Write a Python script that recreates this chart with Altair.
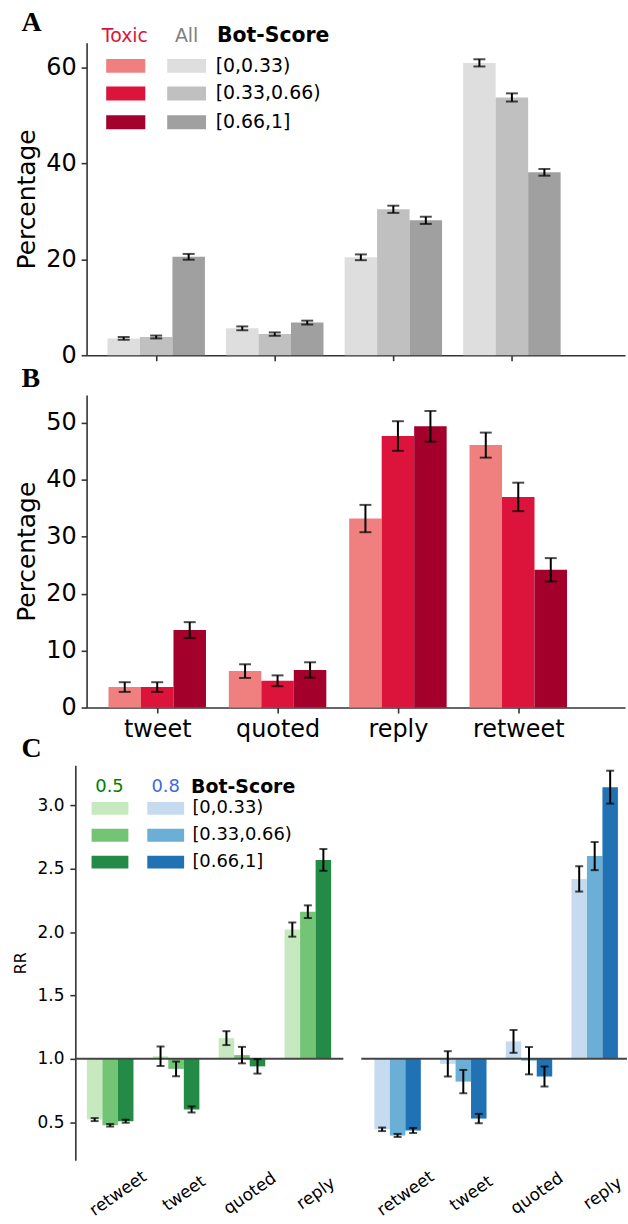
import altair as alt
import pandas as pd

# ---------------------------------------------------------------- data
bins = ["[0,0.33)", "[0.33,0.66)", "[0.66,1]"]

# Panels A and B: tweet types, in plotting order
types_ab = ["tweet", "quoted", "reply", "retweet"]

# A: all tweets, share of each type (%) per bot-score bin
all_low = [3.5, 5.6, 20.4, 60.9]
all_mid = [3.8, 4.4, 30.4, 53.7]
all_high = [20.5, 6.8, 28.1, 38.1]
all_low_err = [0.3, 0.4, 0.6, 0.75]
all_mid_err = [0.3, 0.35, 0.75, 0.85]
all_high_err = [0.6, 0.4, 0.75, 0.7]

# B: toxic tweets, share of each type (%) per bot-score bin
tox_low = [3.6, 6.4, 33.2, 46.1]
tox_mid = [3.6, 4.7, 47.7, 37.0]
tox_high = [13.6, 6.6, 49.4, 24.2]
tox_low_err = [0.85, 1.2, 2.4, 2.2]
tox_mid_err = [0.85, 0.95, 2.6, 2.5]
tox_high_err = [1.4, 1.35, 2.7, 2.05]

# C: relative risk of toxicity by tweet type, thresholds 0.5 and 0.8
types_c = ["retweet", "tweet", "quoted", "reply"]
rr05_low = [0.52, 1.02, 1.163, 2.02]
rr05_mid = [0.475, 0.92, 1.029, 2.161]
rr05_high = [0.507, 0.60, 0.94, 2.57]
rr05_low_err = [0.012, 0.077, 0.055, 0.056]
rr05_mid_err = [0.01, 0.058, 0.065, 0.05]
rr05_high_err = [0.012, 0.024, 0.057, 0.086]

rr08_low = [0.443, 0.96, 1.137, 2.42]
rr08_mid = [0.395, 0.82, 0.985, 2.60]
rr08_high = [0.434, 0.528, 0.86, 3.144]
rr08_low_err = [0.014, 0.1, 0.09, 0.1]
rr08_mid_err = [0.012, 0.092, 0.108, 0.111]
rr08_high_err = [0.02, 0.037, 0.079, 0.13]

# ---------------------------------------------------------------- style
FONT = "DejaVu Sans"
SERIF = "Liberation Serif"
SPINE = "#333333"
GRAYS = ["#dedede", "#c0c0c0", "#a0a0a0"]
REDS = ["#f08080", "#dc143c", "#a3002b"]
GREENS = ["#c7e9c0", "#74c476", "#238b45"]
BLUES = ["#c6dbef", "#6baed6", "#2171b5"]

ONE = pd.DataFrame({"k": [0]})


def frame(types, series, errors, bw):
    rows = []
    for j, (vals, errs) in enumerate(zip(series, errors)):
        for i, t in enumerate(types):
            c = i + (j - 1) * bw
            rows.append({"type": t, "bin": bins[j], "xc": c,
                         "x0": c - bw / 2, "x1": c + bw / 2,
                         "v": vals[i], "lo": vals[i] - errs[i], "hi": vals[i] + errs[i]})
    return pd.DataFrame(rows)


def text(x, y, s, size, color="black", weight="normal", align="left",
         font=FONT, baseline="middle"):
    return alt.Chart(ONE).mark_text(
        text=s, align=align, baseline=baseline, fontSize=size, color=color,
        fontWeight=weight, font=font,
    ).encode(x=alt.value(x), y=alt.value(y))


def swatch(x0, x1, yc, h, color):
    return alt.Chart(ONE).mark_rect(color=color).encode(
        x=alt.value(x0), x2=alt.value(x1),
        y=alt.value(yc - h / 2), y2=alt.value(yc + h / 2))


def spacer(x, y):
    # invisible 1px box that fixes how far a panel reaches into the margins
    return alt.Chart(ONE).mark_rect(color="white", opacity=0).encode(
        x=alt.value(x), x2=alt.value(x + 1), y=alt.value(y - 1), y2=alt.value(y))


def bar_layers(df, xs, ys, xaxis, yaxis, colors, base, cap):
    def X(f):
        return alt.X(f, type="quantitative", scale=xs, axis=xaxis)

    def Y(f):
        return alt.Y(f, type="quantitative", scale=ys, axis=yaxis)

    bars = alt.Chart(df).mark_bar().encode(
        x=X("x0"), x2="x1:Q", y=Y("v"), y2=alt.YDatum(base),
        color=alt.Color("bin:N", scale=alt.Scale(domain=bins, range=colors), legend=None),
    )
    stems = alt.Chart(df).mark_rule(color="black", strokeWidth=2).encode(
        x=X("xc"), y=Y("lo"), y2="hi:Q")
    cap_lo = alt.Chart(df).mark_tick(orient="horizontal", color="black", size=cap,
                                     thickness=2).encode(x=X("xc"), y=Y("lo"))
    cap_hi = alt.Chart(df).mark_tick(orient="horizontal", color="black", size=cap,
                                     thickness=2).encode(x=X("xc"), y=Y("hi"))
    return bars, stems, cap_lo, cap_hi


def type_expr(types):
    arr = ",".join("'%s'" % t for t in types)
    return "[%s][datum.value]" % arr


# ---------------------------------------------------------------- panels A, B
W_AB, H_AB = 541, 314

y_axis_common = dict(grid=False, domainColor=SPINE, domainWidth=1.6, tickColor=SPINE,
                     tickWidth=1.6, tickSize=5.5, labelFontSize=24, labelPadding=5,
                     labelColor="black", title="Percentage", titleFontSize=25,
                     titleFontWeight="normal", titlePadding=6, titleColor="black")

xA = alt.Scale(domain=[-0.587, 3.954], nice=False, zero=False)
yA = alt.Scale(domain=[0, 65.1], nice=False, zero=False)
xaxA = alt.Axis(values=[0, 1, 2, 3], labels=False, grid=False, title=None,
                domainColor=SPINE, domainWidth=1.6, tickColor=SPINE, tickWidth=1.6,
                tickSize=5.5)
yaxA = alt.Axis(values=[0, 20, 40, 60], **y_axis_common)

df_a = frame(types_ab, [all_low, all_mid, all_high],
             [all_low_err, all_mid_err, all_high_err], 0.274)

legend_a = [
    text(38.5, -7, "Toxic", 19, color="#dc143c", align="center"),
    text(100.5, -7, "All", 19, color="#808080", align="center"),
    text(131, -7, "Bot-Score", 20.5, weight="bold"),
]
for k, yc in enumerate([23.3, 51, 80]):
    legend_a += [swatch(19.7, 59, yc, 14, REDS[k]),
                 swatch(81, 120, yc, 14, GRAYS[k]),
                 text(129.7, yc, bins[k], 19)]

panel_a = alt.layer(
    *bar_layers(df_a, xA, yA, xaxA, yaxA, GRAYS, 0, 12),
    *legend_a,
    text(-65.3, -11.3, "A", 28, weight="bold", font=SERIF, baseline="alphabetic"),
    text(-65.3, 346, "B", 28, weight="bold", font=SERIF, baseline="alphabetic"),
    spacer(-80, -37), spacer(-80, 354),
).properties(width=W_AB, height=H_AB)

xB = alt.Scale(domain=[-0.587, 3.887], nice=False, zero=False)
yB = alt.Scale(domain=[0, 54.9], nice=False, zero=False)
xaxB = alt.Axis(values=[0, 1, 2, 3], labelExpr=type_expr(types_ab), grid=False,
                title=None, domainColor=SPINE, domainWidth=1.6, tickColor=SPINE,
                tickWidth=1.6, tickSize=5.5, labelFontSize=24, labelPadding=5,
                labelColor="black", labelFlush=False, labelOverlap=False)
yaxB = alt.Axis(values=[0, 10, 20, 30, 40, 50], **y_axis_common)

df_b = frame(types_ab, [tox_low, tox_mid, tox_high],
             [tox_low_err, tox_mid_err, tox_high_err], 0.27)

panel_b = alt.layer(
    *bar_layers(df_b, xB, yB, xaxB, yaxB, REDS, 0, 12),
    text(-65.3, 364, "C", 28, weight="bold", font=SERIF, baseline="alphabetic"),
    spacer(-80, 372),
).properties(width=W_AB, height=H_AB)

# ---------------------------------------------------------------- panel C
H_C = 397
yC = alt.Scale(domain=[0.198, 3.317], nice=False, zero=False)
Y_OFF = 11.3


def x_axis_c():
    return alt.Axis(values=[0, 1, 2, 3], labelExpr=type_expr(types_c), grid=False,
                    title=None, domain=False, ticks=False, tickSize=0,
                    labelAngle=325, labelAlign="center", labelBaseline="middle",
                    labelOffset=7.7, labelPadding=33, labelFontSize=17,
                    labelColor="black", labelFlush=False, labelOverlap=False)


yaxC = alt.Axis(values=[0.5, 1.0, 1.5, 2.0, 2.5, 3.0], format=".1f", grid=False,
                offset=Y_OFF, domainColor=SPINE, domainWidth=1.6, tickColor=SPINE,
                tickWidth=1.6, tickSize=5.5, labelFontSize=17, labelPadding=6,
                labelColor="black", title="RR", titleFontSize=16,
                titleFontWeight="normal", titlePadding=9, titleColor="black")


def c_panel(series, errors, colors, xdom, width, yaxis, rule_from, extra):
    xs = alt.Scale(domain=xdom, nice=False, zero=False)
    xax = x_axis_c()
    df = frame(types_c, series, errors, 0.2357)
    bars, stems, cap_lo, cap_hi = bar_layers(df, xs, yC, xax, yaxis, colors, 1, 8)
    baseline = alt.Chart(ONE).mark_rule(color="#444444", strokeWidth=2).encode(
        y=alt.YDatum(1, scale=yC, axis=yaxis),
        x=alt.value(rule_from), x2=alt.value(width))
    return alt.layer(bars, baseline, stems, cap_lo, cap_hi, *extra).properties(
        width=width, height=H_C)


legend_c = [
    text(23, 21.7, "0.5", 18, color="#008000", align="center"),
    text(79.5, 21.7, "0.8", 18, color="#4169e1", align="center"),
    text(105, 21.7, "Bot-Score", 19, weight="bold"),
]
for k, yc in enumerate([43.3, 70.3, 97.3]):
    legend_c += [swatch(5, 42, yc, 13, GREENS[k]),
                 swatch(61, 98, yc, 13, BLUES[k]),
                 text(106.3, yc, bins[k], 18)]

W_CL, W_CR = 258, 267
panel_c_left = c_panel([rr05_low, rr05_mid, rr05_high],
                       [rr05_low_err, rr05_mid_err, rr05_high_err], GREENS,
                       [-0.358, 3.539], W_CL, yaxC, -Y_OFF, legend_c)
panel_c_right = c_panel([rr08_low, rr08_mid, rr08_high],
                        [rr08_low_err, rr08_mid_err, rr08_high_err], BLUES,
                        [-0.553, 3.492], W_CR, None, 0, [])

panel_c = alt.hconcat(panel_c_left, panel_c_right, spacing=16).resolve_scale(
    color="independent")

chart = (
    alt.vconcat(panel_a, panel_b, panel_c, spacing=0)
    .resolve_scale(color="independent")
    .properties(padding={"left": 7, "top": 2, "right": 0, "bottom": 0},
                background="white")
    .configure_view(stroke=None)
    .configure_axis(labelFont=FONT, titleFont=FONT)
)

chart.save("out.html", embed_options={"renderer": "svg", "actions": False})
